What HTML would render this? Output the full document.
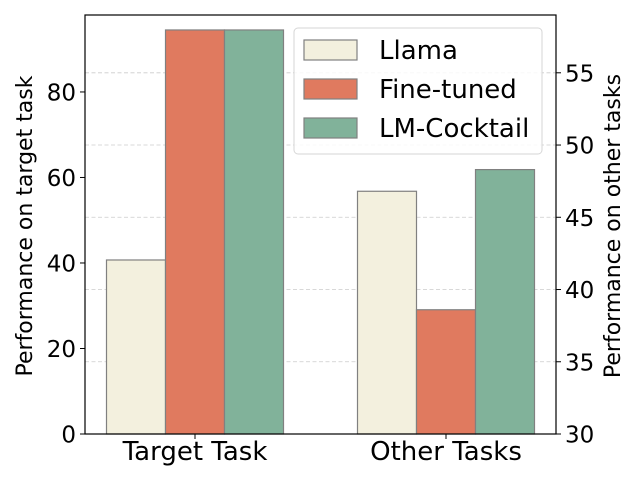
<!DOCTYPE html>
<html><head><meta charset="utf-8"><style>
html,body{margin:0;padding:0;background:#fff;}
svg{display:block;font-family:"DejaVu Sans","Liberation Sans",sans-serif;}
</style></head><body>
<svg id="chart" width="640" height="480" viewBox="0 0 640 480"></svg>
<script>
const categories = ["Target Task", "Other Tasks"];
const seriesNames = ["Llama", "Fine-tuned", "LM-Cocktail"];
const targetValues = [40.7, 94.5, 94.5];   // left axis
const otherValues = [46.8, 38.6, 48.3];    // right axis
const leftTicks = [0, 20, 40, 60, 80];
const rightTicks = [30, 35, 40, 45, 50, 55];

const colors = ["#f3f0de", "#e07a5f", "#81b29a"];
const NS = "http://www.w3.org/2000/svg";
const svg = document.getElementById("chart");
const L = 85, R = 556, T = 15, B = 434;
const leftMax = 98.0, rightMin = 30, rightMax = 59.0;
const yL = v => B - (v / leftMax) * (B - T);
const yR = v => B - ((v - rightMin) / (rightMax - rightMin)) * (B - T);
const groupCenters = [195, 446];
const barW = 59;
const xBar = (g, s) => groupCenters[g] + (s - 1.5) * barW;

function mk(tag, attrs, parent) {
  const e = document.createElementNS(NS, tag);
  for (const k in attrs) e.setAttribute(k, attrs[k]);
  (parent || svg).appendChild(e);
  return e;
}

rightTicks.forEach(t => {
  if (t === rightMin) return;
  const g = mk("line", {x1: L, x2: R, y1: yR(t), y2: yR(t), stroke: "#cccccc", "stroke-width": 0.8, "stroke-dasharray": "4,2.5"});
  
  
});

const allVals = [targetValues, otherValues];
allVals.forEach((vals, g) => {
  vals.forEach((v, s) => {
    const y = g === 0 ? yL(v) : yR(v);
    const r = mk("rect", {x: xBar(g, s), y: y, width: barW, height: B - y, fill: colors[s], stroke: "#808080", "stroke-width": 1.2});
    
    
  });
});

const frame = mk("rect", {x: L, y: T, width: R - L, height: B - T, fill: "none", stroke: "#000", "stroke-width": 1.2});



leftTicks.forEach(t => {
  const y = yL(t);
  mk("line", {x1: L - 5, x2: L, y1: y, y2: y, stroke: "#000", "stroke-width": 1});
  const tx = mk("text", {x: L - 9, y: y + 8.5, "text-anchor": "end", "font-size": 23, fill: "#000"});
  tx.textContent = t;
  
  
});
rightTicks.forEach(t => {
  const y = yR(t);
  mk("line", {x1: R, x2: R + 5, y1: y, y2: y, stroke: "#000", "stroke-width": 1});
  const tx = mk("text", {x: R + 9, y: y + 8.5, "text-anchor": "start", "font-size": 23, fill: "#000"});
  tx.textContent = t;
  
  
});
categories.forEach((c, g) => {
  mk("line", {x1: groupCenters[g], x2: groupCenters[g], y1: B, y2: B + 5, stroke: "#000", "stroke-width": 1});
  const tx = mk("text", {x: groupCenters[g], y: B + 26, "text-anchor": "middle", "font-size": 26, fill: "#000"});
  tx.textContent = c;
  
  
});
const lt = mk("text", {x: 0, y: 0, transform: "translate(32,226) rotate(-90)", "text-anchor": "middle", "font-size": 22});
lt.textContent = "Performance on target task";


const rt = mk("text", {x: 0, y: 0, transform: "translate(620,226) rotate(-90)", "text-anchor": "middle", "font-size": 22});
rt.textContent = "Performance on other tasks";



const lg = mk("g", {});


mk("rect", {x: 294, y: 28, width: 248, height: 126, rx: 4, fill: "rgba(255,255,255,0.85)", stroke: "#d6d6d6", "stroke-width": 1}, lg);
seriesNames.forEach((n, s) => {
  const cy = 50 + s * 39;
  const e = mk("g", {}, lg);
  
  
  mk("rect", {x: 304, y: cy - 10, width: 53, height: 20, fill: colors[s], stroke: "#808080", "stroke-width": 1.2}, e);
  const tx = mk("text", {x: 379, y: cy + 9, "font-size": 26, fill: "#000"}, e);
  tx.textContent = n;
});
</script>
</body></html>
